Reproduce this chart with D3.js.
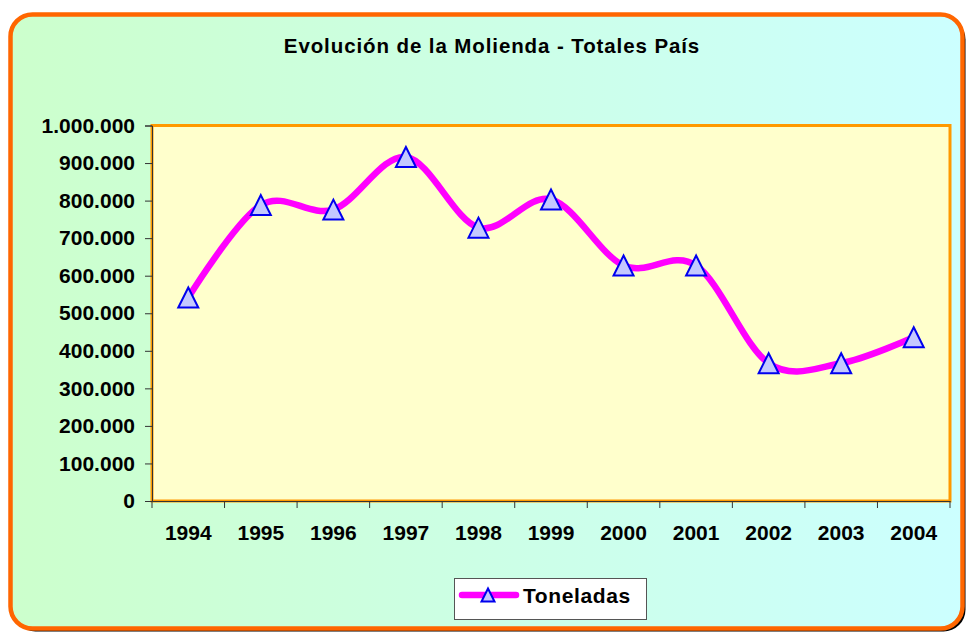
<!DOCTYPE html>
<html><head><meta charset="utf-8">
<script src="https://cdn.jsdelivr.net/npm/d3@7"></script>
<style>body{margin:0;background:#fff}svg{display:block}text{font-family:"Liberation Sans",Arial,sans-serif;font-weight:bold}</style>
</head><body>
<script>
const categories = ["1994","1995","1996","1997","1998","1999","2000","2001","2002","2003","2004"];
const toneladas = [542000, 788000, 776000, 916000, 728000, 803000, 627000, 627000, 367000, 367000, 436000];
const yTicks = [0,100000,200000,300000,400000,500000,600000,700000,800000,900000,1000000];
const seriesName = "Toneladas";
const title = "Evolución de la Molienda - Totales País";

const W = 969, H = 633;
const svg = d3.select("body").append("svg").attr("width", W).attr("height", H);
const defs = svg.append("defs");
const grad = defs.append("linearGradient").attr("id","bg").attr("x1","0").attr("x2","1").attr("y1","0").attr("y2","0");
grad.append("stop").attr("offset","0").attr("stop-color","#ccffcc");
grad.append("stop").attr("offset","1").attr("stop-color","#ccffff");

// frame shadow + frame
svg.append("rect").attr("x",13.5).attr("y",17.5).attr("width",952).attr("height",614).attr("rx",22).attr("fill","#000");
svg.append("rect").attr("x",10.5).attr("y",14.5).attr("width",952).attr("height",614).attr("rx",22)
  .attr("fill","url(#bg)").attr("stroke","#ff6600").attr("stroke-width",4.5);

svg.append("text").attr("x",492).attr("y",53).attr("text-anchor","middle").attr("font-size",20.5)
  .attr("letter-spacing",0.9).attr("fill","#000").text(title);

const L = 152, R = 950, T = 125.5, B = 501;
const x = d3.scaleBand().domain(categories).range([L, R]);
const y = d3.scaleLinear().domain([0, 1000000]).range([B, T]);
const loc = d3.formatLocale({decimal:",", thousands:".", grouping:[3], currency:["",""]});
const fmt = loc.format(",d");

// plot area
svg.append("rect").attr("x",L).attr("y",T).attr("width",R-L).attr("height",B-T)
  .attr("fill","#ffffcc").attr("stroke","#ff9900").attr("stroke-width",3);

// y axis
const ya = svg.append("g").attr("transform",`translate(${L},0)`)
  .call(d3.axisLeft(y).tickValues(yTicks).tickFormat(fmt).tickSize(7).tickPadding(10));
ya.select(".domain").attr("stroke","#333").attr("stroke-width",1);
ya.selectAll(".tick line").attr("stroke","#333");
ya.selectAll("text").attr("font-size",21).attr("fill","#000").attr("font-family",'"Liberation Sans",Arial,sans-serif').attr("font-weight","bold");

// x axis
const xa = svg.append("g").attr("transform",`translate(0,${B})`)
  .call(d3.axisBottom(x).tickSize(0).tickPadding(24));
xa.select(".domain").attr("stroke","#333").attr("stroke-width",1);
xa.selectAll("text").attr("font-size",21).attr("fill","#000").attr("font-family",'"Liberation Sans",Arial,sans-serif').attr("font-weight","bold");
const bounds = categories.map(c => x(c)).concat([R]);
xa.selectAll(".bt").data(bounds).enter().append("line").attr("class","bt")
  .attr("x1",d=>d).attr("x2",d=>d).attr("y1",0).attr("y2",7).attr("stroke","#333");

// line
const cx = d => x(d) + x.bandwidth()/2;
const line = d3.line().x((d,i)=>cx(categories[i])).y(d=>y(d)).curve(d3.curveCardinal.tension(0));
svg.append("path").datum(toneladas).attr("d",line).attr("fill","none")
  .attr("stroke","#ff00ff").attr("stroke-width",6.5).attr("stroke-linejoin","round");

function tri(s){ return `M0,${-s/2}L${s/2},${s/2}L${-s/2},${s/2}Z`; }
svg.selectAll(".mk").data(toneladas).enter().append("path").attr("class","mk")
  .attr("transform",(d,i)=>`translate(${cx(categories[i])},${y(d)})`)
  .attr("d",tri(20)).attr("fill","#c4c8ff").attr("stroke","#0000ee").attr("stroke-width",2);

// legend
const lg = svg.append("g");
lg.append("rect").attr("x",454.5).attr("y",578.5).attr("width",192).attr("height",41).attr("fill","#fff").attr("stroke","#555").attr("stroke-width",1);
lg.append("line").attr("x1",462).attr("x2",516).attr("y1",595).attr("y2",595).attr("stroke","#ff00ff").attr("stroke-width",6.5).attr("stroke-linecap","round");
lg.append("path").attr("transform","translate(488,595)").attr("d",tri(13)).attr("fill","#c4c8ff").attr("stroke","#0000ee").attr("stroke-width",2);
lg.append("text").attr("x",523).attr("y",603).attr("font-size",21).attr("fill","#000").attr("letter-spacing",0.6).text(seriesName);
</script>
</body></html>
